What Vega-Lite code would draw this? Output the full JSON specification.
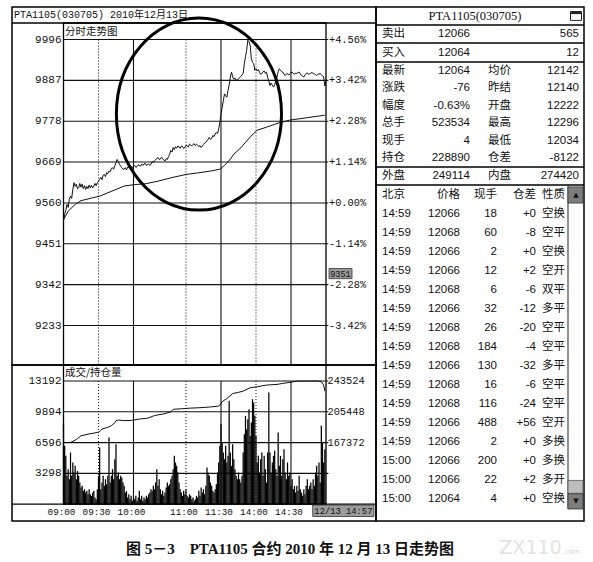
{
"$schema":"https://vega.github.io/schema/vega-lite/v6.json",
"width":593,"height":562,"padding":0,"autosize":{"type":"none"},"background":"white",
"data":{"values":[{}]},
"datasets":{
"pgrid":[{"p":9996,"l":"9996","r":"+4.56%"},{"p":9887,"l":"9887","r":"+3.42%"},{"p":9778,"l":"9778","r":"+2.28%"},{"p":9669,"l":"9669","r":"+1.14%"},{"p":9560,"l":"9560","r":"+0.00%"},{"p":9451,"l":"9451","r":"-1.14%"},{"p":9342,"l":"9342","r":"-2.28%"},{"p":9233,"l":"9233","r":"-3.42%"}],
"vsolid":[{"m":60},{"m":135},{"m":195}],
"vdot":[{"m":30},{"m":105},{"m":165}],
"vgrid":[{"v":13192,"l":"13192"},{"v":9894,"l":"9894"},{"v":6596,"l":"6596"},{"v":3298,"l":"3298"}],
"oigrid":[{"o":243524,"l":"243524"},{"o":205448,"l":"205448"},{"o":167372,"l":"167372"}],
"times":[{"m":0,"t":"09:00"},{"m":30,"t":"09:30"},{"m":60,"t":"10:00"},{"m":105,"t":"11:00"},{"m":135,"t":"11:30"},{"m":165,"t":"14:00"},{"m":195,"t":"14:30"}],
"price":[{"m":0,"p":9512},{"m":1,"p":9530},{"m":2,"p":9540},{"m":3,"p":9556},{"m":4,"p":9548},{"m":5,"p":9570},{"m":6,"p":9578},{"m":7,"p":9572},{"m":8,"p":9596},{"m":9,"p":9614},{"m":10,"p":9604},{"m":11,"p":9610},{"m":12,"p":9598},{"m":13,"p":9600},{"m":14,"p":9612},{"m":15,"p":9602},{"m":16,"p":9610},{"m":17,"p":9598},{"m":18,"p":9606},{"m":19,"p":9596},{"m":20,"p":9604},{"m":21,"p":9598},{"m":22,"p":9608},{"m":23,"p":9600},{"m":24,"p":9607},{"m":25,"p":9600},{"m":26,"p":9605},{"m":27,"p":9612},{"m":28,"p":9606},{"m":29,"p":9614},{"m":30,"p":9618},{"m":31,"p":9623},{"m":32,"p":9628},{"m":33,"p":9622},{"m":34,"p":9634},{"m":35,"p":9636},{"m":36,"p":9630},{"m":37,"p":9641},{"m":38,"p":9638},{"m":39,"p":9645},{"m":40,"p":9643},{"m":41,"p":9652},{"m":42,"p":9654},{"m":43,"p":9650},{"m":44,"p":9660},{"m":45,"p":9667},{"m":46,"p":9676},{"m":47,"p":9670},{"m":48,"p":9663},{"m":49,"p":9658},{"m":50,"p":9654},{"m":51,"p":9650},{"m":52,"p":9650},{"m":53,"p":9654},{"m":54,"p":9648},{"m":55,"p":9656},{"m":56,"p":9655},{"m":57,"p":9652},{"m":58,"p":9658},{"m":59,"p":9654},{"m":60,"p":9658},{"m":61,"p":9660},{"m":62,"p":9655},{"m":63,"p":9657},{"m":64,"p":9662},{"m":65,"p":9660},{"m":66,"p":9658},{"m":67,"p":9664},{"m":68,"p":9660},{"m":69,"p":9663},{"m":70,"p":9666},{"m":71,"p":9660},{"m":72,"p":9662},{"m":73,"p":9664},{"m":74,"p":9660},{"m":75,"p":9663},{"m":76,"p":9670},{"m":77,"p":9668},{"m":78,"p":9672},{"m":79,"p":9676},{"m":80,"p":9678},{"m":81,"p":9681},{"m":82,"p":9676},{"m":83,"p":9677},{"m":84,"p":9682},{"m":85,"p":9678},{"m":86,"p":9674},{"m":87,"p":9672},{"m":88,"p":9678},{"m":89,"p":9676},{"m":90,"p":9684},{"m":91,"p":9690},{"m":92,"p":9700},{"m":93,"p":9696},{"m":94,"p":9708},{"m":95,"p":9702},{"m":96,"p":9710},{"m":97,"p":9706},{"m":98,"p":9712},{"m":99,"p":9709},{"m":100,"p":9706},{"m":101,"p":9712},{"m":102,"p":9711},{"m":103,"p":9705},{"m":104,"p":9708},{"m":105,"p":9714},{"m":106,"p":9712},{"m":107,"p":9709},{"m":108,"p":9717},{"m":109,"p":9714},{"m":110,"p":9712},{"m":111,"p":9716},{"m":112,"p":9718},{"m":113,"p":9713},{"m":114,"p":9717},{"m":115,"p":9714},{"m":116,"p":9710},{"m":117,"p":9713},{"m":118,"p":9708},{"m":119,"p":9712},{"m":120,"p":9716},{"m":121,"p":9720},{"m":122,"p":9722},{"m":123,"p":9726},{"m":124,"p":9730},{"m":125,"p":9735},{"m":126,"p":9729},{"m":127,"p":9732},{"m":128,"p":9740},{"m":129,"p":9737},{"m":130,"p":9744},{"m":131,"p":9748},{"m":132,"p":9745},{"m":133,"p":9757},{"m":134,"p":9775},{"m":135,"p":9797},{"m":136,"p":9815},{"m":137,"p":9833},{"m":138,"p":9851},{"m":139,"p":9846},{"m":140,"p":9842},{"m":141,"p":9860},{"m":142,"p":9875},{"m":143,"p":9896},{"m":144,"p":9909},{"m":145,"p":9896},{"m":146,"p":9890},{"m":147,"p":9893},{"m":148,"p":9887},{"m":149,"p":9889},{"m":150,"p":9891},{"m":151,"p":9894},{"m":152,"p":9898},{"m":153,"p":9902},{"m":154,"p":9905},{"m":155,"p":9932},{"m":156,"p":9950},{"m":157,"p":9967},{"m":158,"p":9994},{"m":159,"p":9990},{"m":160,"p":9981},{"m":161,"p":9945},{"m":162,"p":9935},{"m":163,"p":9932},{"m":164,"p":9914},{"m":165,"p":9918},{"m":166,"p":9912},{"m":167,"p":9916},{"m":168,"p":9909},{"m":169,"p":9903},{"m":170,"p":9905},{"m":171,"p":9910},{"m":172,"p":9912},{"m":173,"p":9906},{"m":174,"p":9909},{"m":175,"p":9895},{"m":176,"p":9885},{"m":177,"p":9873},{"m":178,"p":9880},{"m":179,"p":9874},{"m":180,"p":9869},{"m":181,"p":9875},{"m":182,"p":9886},{"m":183,"p":9896},{"m":184,"p":9910},{"m":185,"p":9918},{"m":186,"p":9914},{"m":187,"p":9910},{"m":188,"p":9909},{"m":189,"p":9903},{"m":190,"p":9900},{"m":191,"p":9904},{"m":192,"p":9905},{"m":193,"p":9901},{"m":194,"p":9905},{"m":195,"p":9908},{"m":196,"p":9909},{"m":197,"p":9905},{"m":198,"p":9903},{"m":199,"p":9907},{"m":200,"p":9905},{"m":201,"p":9908},{"m":202,"p":9909},{"m":203,"p":9904},{"m":204,"p":9900},{"m":205,"p":9898},{"m":206,"p":9896},{"m":207,"p":9902},{"m":208,"p":9905},{"m":209,"p":9907},{"m":210,"p":9903},{"m":211,"p":9905},{"m":212,"p":9906},{"m":213,"p":9908},{"m":214,"p":9905},{"m":215,"p":9904},{"m":216,"p":9902},{"m":217,"p":9900},{"m":218,"p":9903},{"m":219,"p":9904},{"m":220,"p":9905},{"m":221,"p":9902},{"m":222,"p":9900},{"m":223,"p":9896},{"m":224,"p":9872},{"m":225,"p":9885}],
"avg":[{"m":0,"p":9515},{"m":4,"p":9538},{"m":10,"p":9556},{"m":15,"p":9566},{"m":24,"p":9573},{"m":31,"p":9578},{"m":38,"p":9587},{"m":45,"p":9596},{"m":52,"p":9605},{"m":61,"p":9609},{"m":70,"p":9611},{"m":81,"p":9618},{"m":92,"p":9627},{"m":105,"p":9636},{"m":115,"p":9640},{"m":126,"p":9645},{"m":134,"p":9650},{"m":138,"p":9660},{"m":143,"p":9677},{"m":146,"p":9690},{"m":152,"p":9707},{"m":160,"p":9736},{"m":166,"p":9754},{"m":174,"p":9762},{"m":183,"p":9772},{"m":194,"p":9781},{"m":208,"p":9787},{"m":224,"p":9794}],
"oi":[{"m":0,"o":167372},{"m":6,"o":167600},{"m":9,"o":169500},{"m":12,"o":172400},{"m":15,"o":175700},{"m":21,"o":177800},{"m":29,"o":179900},{"m":31,"o":181000},{"m":33,"o":184100},{"m":38,"o":186200},{"m":41,"o":188300},{"m":44,"o":192000},{"m":45,"o":194500},{"m":47,"o":195300},{"m":52,"o":194500},{"m":58,"o":194800},{"m":66,"o":196700},{"m":72,"o":197500},{"m":78,"o":200800},{"m":86,"o":202900},{"m":92,"o":205400},{"m":94,"o":208500},{"m":101,"o":209200},{"m":109,"o":210000},{"m":117,"o":210500},{"m":125,"o":211300},{"m":133,"o":212500},{"m":134,"o":214000},{"m":136,"o":218000},{"m":140,"o":221800},{"m":145,"o":228000},{"m":150,"o":229500},{"m":154,"o":231000},{"m":160,"o":235200},{"m":166,"o":236400},{"m":174,"o":238500},{"m":183,"o":239300},{"m":188,"o":240600},{"m":194,"o":241800},{"m":200,"o":243300},{"m":210,"o":243500},{"m":218,"o":243500},{"m":221,"o":242700},{"m":223,"o":238500},{"m":224,"o":231000}],
"vol":[{"m":0,"v":8566},{"m":1,"v":6246},{"m":2,"v":5175},{"m":3,"v":3034},{"m":4,"v":3747},{"m":5,"v":2677},{"m":6,"v":5532},{"m":7,"v":3034},{"m":8,"v":4461},{"m":9,"v":3391},{"m":10,"v":4104},{"m":11,"v":2677},{"m":12,"v":3569},{"m":13,"v":3034},{"m":14,"v":2320},{"m":15,"v":1785},{"m":16,"v":1963},{"m":17,"v":1428},{"m":18,"v":1606},{"m":19,"v":1249},{"m":20,"v":1428},{"m":21,"v":1071},{"m":22,"v":1606},{"m":23,"v":1071},{"m":24,"v":892},{"m":25,"v":1249},{"m":26,"v":1428},{"m":27,"v":714},{"m":28,"v":535},{"m":29,"v":1606},{"m":30,"v":3034},{"m":31,"v":6067},{"m":32,"v":1606},{"m":33,"v":2320},{"m":34,"v":3034},{"m":35,"v":1963},{"m":36,"v":2677},{"m":37,"v":2141},{"m":38,"v":3034},{"m":39,"v":7138},{"m":40,"v":2320},{"m":41,"v":3034},{"m":42,"v":3747},{"m":43,"v":2677},{"m":44,"v":4818},{"m":45,"v":6424},{"m":46,"v":3034},{"m":47,"v":3391},{"m":48,"v":2677},{"m":49,"v":3034},{"m":50,"v":2855},{"m":51,"v":2320},{"m":52,"v":1963},{"m":53,"v":1249},{"m":54,"v":1428},{"m":55,"v":714},{"m":56,"v":1071},{"m":57,"v":535},{"m":58,"v":892},{"m":59,"v":357},{"m":60,"v":714},{"m":61,"v":535},{"m":62,"v":892},{"m":63,"v":357},{"m":64,"v":714},{"m":65,"v":1428},{"m":66,"v":535},{"m":67,"v":892},{"m":68,"v":357},{"m":69,"v":714},{"m":70,"v":535},{"m":71,"v":892},{"m":72,"v":714},{"m":73,"v":1071},{"m":74,"v":1249},{"m":75,"v":1606},{"m":76,"v":1428},{"m":77,"v":1963},{"m":78,"v":1606},{"m":79,"v":2320},{"m":80,"v":3747},{"m":81,"v":1963},{"m":82,"v":2677},{"m":83,"v":1606},{"m":84,"v":1071},{"m":85,"v":1428},{"m":86,"v":892},{"m":87,"v":1249},{"m":88,"v":1785},{"m":89,"v":2320},{"m":90,"v":1963},{"m":91,"v":2141},{"m":92,"v":2677},{"m":93,"v":3034},{"m":94,"v":3747},{"m":95,"v":5175},{"m":96,"v":4461},{"m":97,"v":4104},{"m":98,"v":3391},{"m":99,"v":2320},{"m":100,"v":1606},{"m":101,"v":1249},{"m":102,"v":892},{"m":103,"v":1428},{"m":104,"v":1071},{"m":105,"v":1606},{"m":106,"v":892},{"m":107,"v":714},{"m":108,"v":1071},{"m":109,"v":892},{"m":110,"v":535},{"m":111,"v":714},{"m":112,"v":357},{"m":113,"v":535},{"m":114,"v":892},{"m":115,"v":714},{"m":116,"v":1428},{"m":117,"v":892},{"m":118,"v":1785},{"m":119,"v":1249},{"m":120,"v":1606},{"m":121,"v":1071},{"m":122,"v":1963},{"m":123,"v":3926},{"m":124,"v":3391},{"m":125,"v":3034},{"m":126,"v":2320},{"m":127,"v":1963},{"m":128,"v":1428},{"m":129,"v":1249},{"m":130,"v":1606},{"m":131,"v":2141},{"m":132,"v":3391},{"m":133,"v":4461},{"m":134,"v":6246},{"m":135,"v":8566},{"m":136,"v":6603},{"m":137,"v":5532},{"m":138,"v":4818},{"m":139,"v":6246},{"m":140,"v":4461},{"m":141,"v":5175},{"m":142,"v":11064},{"m":143,"v":5532},{"m":144,"v":4104},{"m":145,"v":6424},{"m":146,"v":4818},{"m":147,"v":3747},{"m":148,"v":3034},{"m":149,"v":2677},{"m":150,"v":3391},{"m":151,"v":2677},{"m":152,"v":2320},{"m":153,"v":3034},{"m":154,"v":5532},{"m":155,"v":7495},{"m":156,"v":9458},{"m":157,"v":8030},{"m":158,"v":9101},{"m":159,"v":10172},{"m":160,"v":7316},{"m":161,"v":8744},{"m":162,"v":11242},{"m":163,"v":10885},{"m":164,"v":9458},{"m":165,"v":7316},{"m":166,"v":4461},{"m":167,"v":5175},{"m":168,"v":3391},{"m":169,"v":4818},{"m":170,"v":5532},{"m":171,"v":3034},{"m":172,"v":5175},{"m":173,"v":3747},{"m":174,"v":2320},{"m":175,"v":5532},{"m":176,"v":11956},{"m":177,"v":5532},{"m":178,"v":3391},{"m":179,"v":4461},{"m":180,"v":5175},{"m":181,"v":5710},{"m":182,"v":3747},{"m":183,"v":3034},{"m":184,"v":7673},{"m":185,"v":4104},{"m":186,"v":5175},{"m":187,"v":3034},{"m":188,"v":4818},{"m":189,"v":5889},{"m":190,"v":3391},{"m":191,"v":2677},{"m":192,"v":4461},{"m":193,"v":3034},{"m":194,"v":3391},{"m":195,"v":1963},{"m":196,"v":2677},{"m":197,"v":1606},{"m":198,"v":1963},{"m":199,"v":1249},{"m":200,"v":1963},{"m":201,"v":1428},{"m":202,"v":3034},{"m":203,"v":1606},{"m":204,"v":1249},{"m":205,"v":892},{"m":206,"v":1606},{"m":207,"v":1071},{"m":208,"v":1963},{"m":209,"v":2677},{"m":210,"v":1606},{"m":211,"v":1963},{"m":212,"v":2320},{"m":213,"v":1606},{"m":214,"v":2677},{"m":215,"v":1963},{"m":216,"v":3391},{"m":217,"v":4104},{"m":218,"v":3034},{"m":219,"v":4461},{"m":220,"v":2320},{"m":221,"v":8387},{"m":222,"v":6603},{"m":223,"v":4461},{"m":224,"v":5889}],
"seps":[{"b":-0.5},{"b":0.5},{"b":1.5},{"b":7.5},{"b":8.5}],
"info":[{"r":0,"k1":"卖出","v1":"12066","k2":"","v2":"565"},{"r":1,"k1":"买入","v1":"12064","k2":"","v2":"12"},{"r":2,"k1":"最新","v1":"12064","k2":"均价","v2":"12142"},{"r":3,"k1":"涨跌","v1":"-76","k2":"昨结","v2":"12140"},{"r":4,"k1":"幅度","v1":"-0.63%","k2":"开盘","v2":"12222"},{"r":5,"k1":"总手","v1":"523534","k2":"最高","v2":"12296"},{"r":6,"k1":"现手","v1":"4","k2":"最低","v2":"12034"},{"r":7,"k1":"持仓","v1":"228890","k2":"仓差","v2":"-8122"},{"r":8,"k1":"外盘","v1":"249114","k2":"内盘","v2":"274420"}],
"trades":[{"r":9,"t":"北京","p":"价格","q":"现手","d":"仓差","k":"性质"},{"r":10,"t":"14:59","p":"12066","q":"18","d":"+0","k":"空换"},{"r":11,"t":"14:59","p":"12068","q":"60","d":"-8","k":"空平"},{"r":12,"t":"14:59","p":"12066","q":"2","d":"+0","k":"空换"},{"r":13,"t":"14:59","p":"12066","q":"12","d":"+2","k":"空开"},{"r":14,"t":"14:59","p":"12068","q":"6","d":"-6","k":"双平"},{"r":15,"t":"14:59","p":"12066","q":"32","d":"-12","k":"多平"},{"r":16,"t":"14:59","p":"12068","q":"26","d":"-20","k":"空平"},{"r":17,"t":"14:59","p":"12068","q":"184","d":"-4","k":"空平"},{"r":18,"t":"14:59","p":"12066","q":"130","d":"-32","k":"多平"},{"r":19,"t":"14:59","p":"12068","q":"16","d":"-6","k":"空平"},{"r":20,"t":"14:59","p":"12068","q":"116","d":"-24","k":"空平"},{"r":21,"t":"14:59","p":"12066","q":"488","d":"+56","k":"空开"},{"r":22,"t":"14:59","p":"12066","q":"2","d":"+0","k":"多换"},{"r":23,"t":"15:00","p":"12066","q":"200","d":"+0","k":"多换"},{"r":24,"t":"15:00","p":"12066","q":"22","d":"+2","k":"多开"},{"r":25,"t":"15:00","p":"12064","q":"4","d":"+0","k":"空换"}]
},
"resolve":{"scale":{"x":"independent","y":"independent"}},
"layer":[
{"mark":{"type":"rect","fillOpacity":0,"stroke":"#000","strokeWidth":1.5},"encoding":{"x":{"datum":-44.14,"type":"quantitative","scale":{"domain":[0,225],"range":[63.5,326],"nice":false,"zero":false},"axis":null},"x2":{"datum":267.86},"y":{"datum":10082.7,"type":"quantitative","scale":{"domain":[9233,9996],"range":[325.5,39.5],"nice":false,"zero":false},"axis":null},"y2":{"datum":9127.6}}},
{"mark":{"type":"rule","stroke":"#000","strokeWidth":1.3},"encoding":{"x":{"datum":-44.14,"type":"quantitative","scale":{"domain":[0,225],"range":[63.5,326],"nice":false,"zero":false},"axis":null},"x2":{"datum":267.86},"y":{"datum":10040,"type":"quantitative","scale":{"domain":[9233,9996],"range":[325.5,39.5],"nice":false,"zero":false},"axis":null}}},
{"mark":{"type":"rect","fillOpacity":0,"stroke":"#000","strokeWidth":1.3},"encoding":{"x":{"datum":0,"type":"quantitative","scale":{"domain":[0,225],"range":[63.5,326],"nice":false,"zero":false},"axis":null},"x2":{"datum":225},"y":{"datum":10040,"type":"quantitative","scale":{"domain":[9233,9996],"range":[325.5,39.5],"nice":false,"zero":false},"axis":null},"y2":{"datum":9127.6}}},
{"data":{"name":"pgrid"},"mark":{"type":"rule","stroke":"#111","strokeWidth":1.1},"encoding":{"x":{"datum":0,"type":"quantitative","scale":{"domain":[0,225],"range":[63.5,326],"nice":false,"zero":false},"axis":null},"x2":{"datum":227},"y":{"field":"p","type":"quantitative","scale":{"domain":[9233,9996],"range":[325.5,39.5],"nice":false,"zero":false},"axis":null}}},
{"data":{"name":"vsolid"},"mark":{"type":"rule","stroke":"#111","strokeWidth":1.1},"encoding":{"x":{"field":"m","type":"quantitative","scale":{"domain":[0,225],"range":[63.5,326],"nice":false,"zero":false},"axis":null},"y":{"datum":9996,"type":"quantitative","scale":{"domain":[9233,9996],"range":[325.5,39.5],"nice":false,"zero":false},"axis":null},"y2":{"datum":9127.6}}},
{"data":{"name":"vdot"},"mark":{"type":"rule","stroke":"#111","strokeWidth":1,"strokeDash":[1,2]},"encoding":{"x":{"field":"m","type":"quantitative","scale":{"domain":[0,225],"range":[63.5,326],"nice":false,"zero":false},"axis":null},"y":{"datum":9996,"type":"quantitative","scale":{"domain":[9233,9996],"range":[325.5,39.5],"nice":false,"zero":false},"axis":null},"y2":{"datum":9127.6}}},
{"data":{"name":"pgrid"},"mark":{"type":"text","align":"right","baseline":"middle","dx":-2,"font":"Liberation Mono","fontSize":11,"color":"#111"},"encoding":{"text":{"field":"l","type":"nominal"},"x":{"datum":0,"type":"quantitative","scale":{"domain":[0,225],"range":[63.5,326],"nice":false,"zero":false},"axis":null},"y":{"field":"p","type":"quantitative","scale":{"domain":[9233,9996],"range":[325.5,39.5],"nice":false,"zero":false},"axis":null}}},
{"data":{"name":"pgrid"},"mark":{"type":"text","align":"left","baseline":"middle","dx":3,"font":"Liberation Mono","fontSize":10.3,"color":"#111"},"encoding":{"text":{"field":"r","type":"nominal"},"x":{"datum":225,"type":"quantitative","scale":{"domain":[0,225],"range":[63.5,326],"nice":false,"zero":false},"axis":null},"y":{"field":"p","type":"quantitative","scale":{"domain":[9233,9996],"range":[325.5,39.5],"nice":false,"zero":false},"axis":null}}},
{"data":{"name":"avg"},"mark":{"type":"line","stroke":"#111","strokeWidth":1},"encoding":{"x":{"field":"m","type":"quantitative","scale":{"domain":[0,225],"range":[63.5,326],"nice":false,"zero":false},"axis":null},"y":{"field":"p","type":"quantitative","scale":{"domain":[9233,9996],"range":[325.5,39.5],"nice":false,"zero":false},"axis":null}}},
{"data":{"name":"price"},"mark":{"type":"line","stroke":"#111","strokeWidth":1},"encoding":{"x":{"field":"m","type":"quantitative","scale":{"domain":[0,225],"range":[63.5,326],"nice":false,"zero":false},"axis":null},"y":{"field":"p","type":"quantitative","scale":{"domain":[9233,9996],"range":[325.5,39.5],"nice":false,"zero":false},"axis":null}}},
{"mark":{"type":"rect","fill":"#9a9a9a","stroke":"#333","strokeWidth":0.8},"encoding":{"x":{"datum":227.6,"type":"quantitative","scale":{"domain":[0,225],"range":[63.5,326],"nice":false,"zero":false},"axis":null},"x2":{"datum":247.3},"y":{"datum":9385,"type":"quantitative","scale":{"domain":[9233,9996],"range":[325.5,39.5],"nice":false,"zero":false},"axis":null},"y2":{"datum":9358}}},
{"data":{"values":[{"t":"9351"}]},"mark":{"type":"text","align":"center","baseline":"middle","font":"Liberation Mono","fontSize":8.5,"color":"#111"},"encoding":{"text":{"field":"t","type":"nominal"},"x":{"datum":237.4,"type":"quantitative","scale":{"domain":[0,225],"range":[63.5,326],"nice":false,"zero":false},"axis":null},"y":{"datum":9371.5,"type":"quantitative","scale":{"domain":[9233,9996],"range":[325.5,39.5],"nice":false,"zero":false},"axis":null}}},
{"data":{"values":[{"t":"PTA1105(030705) 2010年12月13日"}]},"mark":{"type":"text","align":"left","baseline":"middle","font":"Liberation Mono, Noto Sans CJK SC","fontSize":10,"color":"#111"},"encoding":{"text":{"field":"t","type":"nominal"},"x":{"datum":-42.4,"type":"quantitative","scale":{"domain":[0,225],"range":[63.5,326],"nice":false,"zero":false},"axis":null},"y":{"datum":10061.4,"type":"quantitative","scale":{"domain":[9233,9996],"range":[325.5,39.5],"nice":false,"zero":false},"axis":null}}},
{"data":{"values":[{"t":"分时走势图"}]},"mark":{"type":"text","align":"left","baseline":"middle","dx":1.5,"font":"Noto Sans CJK SC","fontSize":10.5,"color":"#111"},"encoding":{"text":{"field":"t","type":"nominal"},"x":{"datum":0,"type":"quantitative","scale":{"domain":[0,225],"range":[63.5,326],"nice":false,"zero":false},"axis":null},"y":{"datum":10017,"type":"quantitative","scale":{"domain":[9233,9996],"range":[325.5,39.5],"nice":false,"zero":false},"axis":null}}},
{"mark":{"type":"rect","fillOpacity":0,"stroke":"#000","strokeWidth":1.5},"encoding":{"x":{"datum":-44.14,"type":"quantitative","scale":{"domain":[0,225],"range":[63.5,326],"nice":false,"zero":false},"axis":null},"x2":{"datum":267.86},"y":{"datum":14905,"type":"quantitative","scale":{"domain":[0,13192],"range":[504.2,381],"nice":false,"zero":false},"axis":null},"y2":{"datum":-1790}}},
{"mark":{"type":"rect","fillOpacity":0,"stroke":"#000","strokeWidth":1.3},"encoding":{"x":{"datum":0,"type":"quantitative","scale":{"domain":[0,225],"range":[63.5,326],"nice":false,"zero":false},"axis":null},"x2":{"datum":225},"y":{"datum":14905,"type":"quantitative","scale":{"domain":[0,13192],"range":[504.2,381],"nice":false,"zero":false},"axis":null},"y2":{"datum":0}}},
{"mark":{"type":"rule","stroke":"#000","strokeWidth":1.3},"encoding":{"x":{"datum":-44.14,"type":"quantitative","scale":{"domain":[0,225],"range":[63.5,326],"nice":false,"zero":false},"axis":null},"x2":{"datum":267.86},"y":{"datum":0,"type":"quantitative","scale":{"domain":[0,13192],"range":[504.2,381],"nice":false,"zero":false},"axis":null}}},
{"data":{"name":"vgrid"},"mark":{"type":"rule","stroke":"#111","strokeWidth":1.1},"encoding":{"x":{"datum":0,"type":"quantitative","scale":{"domain":[0,225],"range":[63.5,326],"nice":false,"zero":false},"axis":null},"x2":{"datum":227},"y":{"field":"v","type":"quantitative","scale":{"domain":[0,13192],"range":[504.2,381],"nice":false,"zero":false},"axis":null}}},
{"data":{"name":"vsolid"},"mark":{"type":"rule","stroke":"#111","strokeWidth":1.1},"encoding":{"x":{"field":"m","type":"quantitative","scale":{"domain":[0,225],"range":[63.5,326],"nice":false,"zero":false},"axis":null},"y":{"datum":13192,"type":"quantitative","scale":{"domain":[0,13192],"range":[504.2,381],"nice":false,"zero":false},"axis":null},"y2":{"datum":0}}},
{"data":{"name":"vdot"},"mark":{"type":"rule","stroke":"#111","strokeWidth":1,"strokeDash":[1,2]},"encoding":{"x":{"field":"m","type":"quantitative","scale":{"domain":[0,225],"range":[63.5,326],"nice":false,"zero":false},"axis":null},"y":{"datum":13192,"type":"quantitative","scale":{"domain":[0,13192],"range":[504.2,381],"nice":false,"zero":false},"axis":null},"y2":{"datum":0}}},
{"data":{"name":"vol"},"mark":{"type":"rule","stroke":"#000","strokeWidth":1.25},"encoding":{"x":{"field":"m","type":"quantitative","scale":{"domain":[0,225],"range":[63.5,326],"nice":false,"zero":false},"axis":null},"y":{"field":"v","type":"quantitative","scale":{"domain":[0,13192],"range":[504.2,381],"nice":false,"zero":false},"axis":null},"y2":{"datum":0}}},
{"data":{"name":"oi"},"mark":{"type":"line","stroke":"#111","strokeWidth":1},"encoding":{"x":{"field":"m","type":"quantitative","scale":{"domain":[0,225],"range":[63.5,326],"nice":false,"zero":false},"axis":null},"y":{"field":"o","type":"quantitative","scale":{"domain":[91220,243524],"range":[504.2,381],"nice":false,"zero":false},"axis":null}}},
{"data":{"name":"vgrid"},"mark":{"type":"text","align":"right","baseline":"middle","dx":-2,"font":"Liberation Mono","fontSize":11,"color":"#111"},"encoding":{"text":{"field":"l","type":"nominal"},"x":{"datum":0,"type":"quantitative","scale":{"domain":[0,225],"range":[63.5,326],"nice":false,"zero":false},"axis":null},"y":{"field":"v","type":"quantitative","scale":{"domain":[0,13192],"range":[504.2,381],"nice":false,"zero":false},"axis":null}}},
{"data":{"name":"oigrid"},"mark":{"type":"text","align":"left","baseline":"middle","dx":1.5,"font":"Liberation Mono","fontSize":10.3,"color":"#111"},"encoding":{"text":{"field":"l","type":"nominal"},"x":{"datum":225,"type":"quantitative","scale":{"domain":[0,225],"range":[63.5,326],"nice":false,"zero":false},"axis":null},"y":{"field":"o","type":"quantitative","scale":{"domain":[91220,243524],"range":[504.2,381],"nice":false,"zero":false},"axis":null}}},
{"data":{"values":[{"t":"成交/持仓量"}]},"mark":{"type":"text","align":"left","baseline":"middle","dx":1.5,"font":"Noto Sans CJK SC","fontSize":10.5,"color":"#111"},"encoding":{"text":{"field":"t","type":"nominal"},"x":{"datum":0,"type":"quantitative","scale":{"domain":[0,225],"range":[63.5,326],"nice":false,"zero":false},"axis":null},"y":{"datum":14049,"type":"quantitative","scale":{"domain":[0,13192],"range":[504.2,381],"nice":false,"zero":false},"axis":null}}},
{"data":{"name":"times"},"mark":{"type":"text","align":"center","baseline":"middle","dx":-2,"font":"Liberation Mono","fontSize":9.3,"color":"#111"},"encoding":{"text":{"field":"t","type":"nominal"},"x":{"field":"m","type":"quantitative","scale":{"domain":[0,225],"range":[63.5,326],"nice":false,"zero":false},"axis":null},"y":{"datum":-835,"type":"quantitative","scale":{"domain":[0,13192],"range":[504.2,381],"nice":false,"zero":false},"axis":null}}},
{"mark":{"type":"rect","fill":"#9c9c9c","stroke":"#333","strokeWidth":0.8},"encoding":{"x":{"datum":213.6,"type":"quantitative","scale":{"domain":[0,225],"range":[63.5,326],"nice":false,"zero":false},"axis":null},"x2":{"datum":266.1},"y":{"datum":-86,"type":"quantitative","scale":{"domain":[0,13192],"range":[504.2,381],"nice":false,"zero":false},"axis":null},"y2":{"datum":-1317}}},
{"data":{"values":[{"t":"12/13 14:57"}]},"mark":{"type":"text","align":"center","baseline":"middle","font":"Liberation Mono","fontSize":8.8,"color":"#111"},"encoding":{"text":{"field":"t","type":"nominal"},"x":{"datum":239.9,"type":"quantitative","scale":{"domain":[0,225],"range":[63.5,326],"nice":false,"zero":false},"axis":null},"y":{"datum":-760,"type":"quantitative","scale":{"domain":[0,13192],"range":[504.2,381],"nice":false,"zero":false},"axis":null}}},
{"mark":{"type":"rect","fillOpacity":0,"stroke":"#000","strokeWidth":1.5},"encoding":{"x":{"datum":0,"type":"quantitative","scale":{"domain":[0,1,2,3,4,5,6,7,8,9,10,11,12],"range":[376,382,460,470,475,488,497,536,542,568,576,579,584],"nice":false,"zero":false},"axis":null},"x2":{"datum":12},"y":{"datum":-1.5,"type":"quantitative","scale":{"domain":[-1.5,-0.5,0.5,1.5,7.5,8.5,9.5,25.5,26.5],"range":[7,25,43,62,167,185,204,509,521],"nice":false,"zero":false},"axis":null},"y2":{"datum":26.5}}},
{"data":{"name":"seps"},"mark":{"type":"rule","stroke":"#000","strokeWidth":1.3},"encoding":{"x":{"datum":0,"type":"quantitative","scale":{"domain":[0,1,2,3,4,5,6,7,8,9,10,11,12],"range":[376,382,460,470,475,488,497,536,542,568,576,579,584],"nice":false,"zero":false},"axis":null},"x2":{"datum":12},"y":{"field":"b","type":"quantitative","scale":{"domain":[-1.5,-0.5,0.5,1.5,7.5,8.5,9.5,25.5,26.5],"range":[7,25,43,62,167,185,204,509,521],"nice":false,"zero":false},"axis":null}}},
{"mark":{"type":"rule","stroke":"#222","strokeWidth":1},"encoding":{"x":{"datum":9,"type":"quantitative","scale":{"domain":[0,1,2,3,4,5,6,7,8,9,10,11,12],"range":[376,382,460,470,475,488,497,536,542,568,576,579,584],"nice":false,"zero":false},"axis":null},"y":{"datum":8.5,"type":"quantitative","scale":{"domain":[-1.5,-0.5,0.5,1.5,7.5,8.5,9.5,25.5,26.5],"range":[7,25,43,62,167,185,204,509,521],"nice":false,"zero":false},"axis":null},"y2":{"datum":25.5}}},
{"mark":{"type":"rect","fill":"#7d7d7d","stroke":"#333","strokeWidth":0.8},"encoding":{"x":{"datum":9,"type":"quantitative","scale":{"domain":[0,1,2,3,4,5,6,7,8,9,10,11,12],"range":[376,382,460,470,475,488,497,536,542,568,576,579,584],"nice":false,"zero":false},"axis":null},"x2":{"datum":11.8},"y":{"datum":8.6,"type":"quantitative","scale":{"domain":[-1.5,-0.5,0.5,1.5,7.5,8.5,9.5,25.5,26.5],"range":[7,25,43,62,167,185,204,509,521],"nice":false,"zero":false},"axis":null},"y2":{"datum":9.45}}},
{"mark":{"type":"rect","fill":"#bdbdbd","stroke":"#555","strokeWidth":0.8},"encoding":{"x":{"datum":9,"type":"quantitative","scale":{"domain":[0,1,2,3,4,5,6,7,8,9,10,11,12],"range":[376,382,460,470,475,488,497,536,542,568,576,579,584],"nice":false,"zero":false},"axis":null},"x2":{"datum":11.8},"y":{"datum":24.0,"type":"quantitative","scale":{"domain":[-1.5,-0.5,0.5,1.5,7.5,8.5,9.5,25.5,26.5],"range":[7,25,43,62,167,185,204,509,521],"nice":false,"zero":false},"axis":null},"y2":{"datum":24.68}}},
{"mark":{"type":"rect","fill":"#7d7d7d","stroke":"#333","strokeWidth":0.8},"encoding":{"x":{"datum":9,"type":"quantitative","scale":{"domain":[0,1,2,3,4,5,6,7,8,9,10,11,12],"range":[376,382,460,470,475,488,497,536,542,568,576,579,584],"nice":false,"zero":false},"axis":null},"x2":{"datum":11.8},"y":{"datum":24.7,"type":"quantitative","scale":{"domain":[-1.5,-0.5,0.5,1.5,7.5,8.5,9.5,25.5,26.5],"range":[7,25,43,62,167,185,204,509,521],"nice":false,"zero":false},"axis":null},"y2":{"datum":25.5}}},
{"data":{"values":[{"t":"▲","r":9.02},{"t":"▼","r":25.1}]},"mark":{"type":"text","align":"center","baseline":"middle","font":"DejaVu Sans","fontSize":7,"color":"#111"},"encoding":{"text":{"field":"t","type":"nominal"},"x":{"datum":10,"type":"quantitative","scale":{"domain":[0,1,2,3,4,5,6,7,8,9,10,11,12],"range":[376,382,460,470,475,488,497,536,542,568,576,579,584],"nice":false,"zero":false},"axis":null},"y":{"field":"r","type":"quantitative","scale":{"domain":[-1.5,-0.5,0.5,1.5,7.5,8.5,9.5,25.5,26.5],"range":[7,25,43,62,167,185,204,509,521],"nice":false,"zero":false},"axis":null}}},
{"mark":{"type":"point","shape":"M-1,-0.8H1V0.8H-1Z","size":121,"filled":false,"stroke":"#222","strokeWidth":1,"opacity":1},"encoding":{"x":{"datum":10,"type":"quantitative","scale":{"domain":[0,1,2,3,4,5,6,7,8,9,10,11,12],"range":[376,382,460,470,475,488,497,536,542,568,576,579,584],"nice":false,"zero":false},"axis":null},"y":{"datum":-1,"type":"quantitative","scale":{"domain":[-1.5,-0.5,0.5,1.5,7.5,8.5,9.5,25.5,26.5],"range":[7,25,43,62,167,185,204,509,521],"nice":false,"zero":false},"axis":null}}},
{"mark":{"type":"point","shape":"M-1,-0.8H1V-0.35H-1Z","size":121,"filled":true,"fill":"#222","opacity":1},"encoding":{"x":{"datum":10,"type":"quantitative","scale":{"domain":[0,1,2,3,4,5,6,7,8,9,10,11,12],"range":[376,382,460,470,475,488,497,536,542,568,576,579,584],"nice":false,"zero":false},"axis":null},"y":{"datum":-1,"type":"quantitative","scale":{"domain":[-1.5,-0.5,0.5,1.5,7.5,8.5,9.5,25.5,26.5],"range":[7,25,43,62,167,185,204,509,521],"nice":false,"zero":false},"axis":null}}},
{"data":{"values":[{"t":"PTA1105(030705)"}]},"mark":{"type":"text","align":"center","baseline":"middle","font":"Liberation Serif","fontSize":12.5,"color":"#111"},"encoding":{"text":{"field":"t","type":"nominal"},"x":{"datum":4,"type":"quantitative","scale":{"domain":[0,1,2,3,4,5,6,7,8,9,10,11,12],"range":[376,382,460,470,475,488,497,536,542,568,576,579,584],"nice":false,"zero":false},"axis":null},"y":{"datum":-1,"type":"quantitative","scale":{"domain":[-1.5,-0.5,0.5,1.5,7.5,8.5,9.5,25.5,26.5],"range":[7,25,43,62,167,185,204,509,521],"nice":false,"zero":false},"axis":null}}},
{"data":{"name":"info"},"mark":{"type":"text","align":"left","baseline":"middle","font":"Liberation Sans, Noto Sans CJK SC","fontSize":11.5,"color":"#111"},"encoding":{"text":{"field":"k1","type":"nominal"},"x":{"datum":1,"type":"quantitative","scale":{"domain":[0,1,2,3,4,5,6,7,8,9,10,11,12],"range":[376,382,460,470,475,488,497,536,542,568,576,579,584],"nice":false,"zero":false},"axis":null},"y":{"field":"r","type":"quantitative","scale":{"domain":[-1.5,-0.5,0.5,1.5,7.5,8.5,9.5,25.5,26.5],"range":[7,25,43,62,167,185,204,509,521],"nice":false,"zero":false},"axis":null}}},
{"data":{"name":"info"},"mark":{"type":"text","align":"right","baseline":"middle","font":"Liberation Sans, Noto Sans CJK SC","fontSize":11.5,"color":"#111"},"encoding":{"text":{"field":"v1","type":"nominal"},"x":{"datum":3,"type":"quantitative","scale":{"domain":[0,1,2,3,4,5,6,7,8,9,10,11,12],"range":[376,382,460,470,475,488,497,536,542,568,576,579,584],"nice":false,"zero":false},"axis":null},"y":{"field":"r","type":"quantitative","scale":{"domain":[-1.5,-0.5,0.5,1.5,7.5,8.5,9.5,25.5,26.5],"range":[7,25,43,62,167,185,204,509,521],"nice":false,"zero":false},"axis":null}}},
{"data":{"name":"info"},"mark":{"type":"text","align":"left","baseline":"middle","font":"Liberation Sans, Noto Sans CJK SC","fontSize":11.5,"color":"#111"},"encoding":{"text":{"field":"k2","type":"nominal"},"x":{"datum":5,"type":"quantitative","scale":{"domain":[0,1,2,3,4,5,6,7,8,9,10,11,12],"range":[376,382,460,470,475,488,497,536,542,568,576,579,584],"nice":false,"zero":false},"axis":null},"y":{"field":"r","type":"quantitative","scale":{"domain":[-1.5,-0.5,0.5,1.5,7.5,8.5,9.5,25.5,26.5],"range":[7,25,43,62,167,185,204,509,521],"nice":false,"zero":false},"axis":null}}},
{"data":{"name":"info"},"mark":{"type":"text","align":"right","baseline":"middle","font":"Liberation Sans, Noto Sans CJK SC","fontSize":11.5,"color":"#111"},"encoding":{"text":{"field":"v2","type":"nominal"},"x":{"datum":11,"type":"quantitative","scale":{"domain":[0,1,2,3,4,5,6,7,8,9,10,11,12],"range":[376,382,460,470,475,488,497,536,542,568,576,579,584],"nice":false,"zero":false},"axis":null},"y":{"field":"r","type":"quantitative","scale":{"domain":[-1.5,-0.5,0.5,1.5,7.5,8.5,9.5,25.5,26.5],"range":[7,25,43,62,167,185,204,509,521],"nice":false,"zero":false},"axis":null}}},
{"data":{"name":"trades"},"mark":{"type":"text","align":"left","baseline":"middle","font":"Liberation Sans, Noto Sans CJK SC","fontSize":11.5,"color":"#111"},"encoding":{"text":{"field":"t","type":"nominal"},"x":{"datum":1,"type":"quantitative","scale":{"domain":[0,1,2,3,4,5,6,7,8,9,10,11,12],"range":[376,382,460,470,475,488,497,536,542,568,576,579,584],"nice":false,"zero":false},"axis":null},"y":{"field":"r","type":"quantitative","scale":{"domain":[-1.5,-0.5,0.5,1.5,7.5,8.5,9.5,25.5,26.5],"range":[7,25,43,62,167,185,204,509,521],"nice":false,"zero":false},"axis":null}}},
{"data":{"name":"trades"},"mark":{"type":"text","align":"right","baseline":"middle","font":"Liberation Sans, Noto Sans CJK SC","fontSize":11.5,"color":"#111"},"encoding":{"text":{"field":"p","type":"nominal"},"x":{"datum":2,"type":"quantitative","scale":{"domain":[0,1,2,3,4,5,6,7,8,9,10,11,12],"range":[376,382,460,470,475,488,497,536,542,568,576,579,584],"nice":false,"zero":false},"axis":null},"y":{"field":"r","type":"quantitative","scale":{"domain":[-1.5,-0.5,0.5,1.5,7.5,8.5,9.5,25.5,26.5],"range":[7,25,43,62,167,185,204,509,521],"nice":false,"zero":false},"axis":null}}},
{"data":{"name":"trades"},"mark":{"type":"text","align":"right","baseline":"middle","font":"Liberation Sans, Noto Sans CJK SC","fontSize":11.5,"color":"#111"},"encoding":{"text":{"field":"q","type":"nominal"},"x":{"datum":6,"type":"quantitative","scale":{"domain":[0,1,2,3,4,5,6,7,8,9,10,11,12],"range":[376,382,460,470,475,488,497,536,542,568,576,579,584],"nice":false,"zero":false},"axis":null},"y":{"field":"r","type":"quantitative","scale":{"domain":[-1.5,-0.5,0.5,1.5,7.5,8.5,9.5,25.5,26.5],"range":[7,25,43,62,167,185,204,509,521],"nice":false,"zero":false},"axis":null}}},
{"data":{"name":"trades"},"mark":{"type":"text","align":"right","baseline":"middle","font":"Liberation Sans, Noto Sans CJK SC","fontSize":11.5,"color":"#111"},"encoding":{"text":{"field":"d","type":"nominal"},"x":{"datum":7,"type":"quantitative","scale":{"domain":[0,1,2,3,4,5,6,7,8,9,10,11,12],"range":[376,382,460,470,475,488,497,536,542,568,576,579,584],"nice":false,"zero":false},"axis":null},"y":{"field":"r","type":"quantitative","scale":{"domain":[-1.5,-0.5,0.5,1.5,7.5,8.5,9.5,25.5,26.5],"range":[7,25,43,62,167,185,204,509,521],"nice":false,"zero":false},"axis":null}}},
{"data":{"name":"trades"},"mark":{"type":"text","align":"left","baseline":"middle","font":"Liberation Sans, Noto Sans CJK SC","fontSize":11.5,"color":"#111"},"encoding":{"text":{"field":"k","type":"nominal"},"x":{"datum":8,"type":"quantitative","scale":{"domain":[0,1,2,3,4,5,6,7,8,9,10,11,12],"range":[376,382,460,470,475,488,497,536,542,568,576,579,584],"nice":false,"zero":false},"axis":null},"y":{"field":"r","type":"quantitative","scale":{"domain":[-1.5,-0.5,0.5,1.5,7.5,8.5,9.5,25.5,26.5],"range":[7,25,43,62,167,185,204,509,521],"nice":false,"zero":false},"axis":null}}},
{"data":{"values":[{"m":116.1,"p":9797}]},"mark":{"type":"point","shape":"M0.86,0C0.86,0.5523 0.475,1 0,1C-0.475,1 -0.86,0.5523 -0.86,0C-0.86,-0.5523 -0.475,-1 0,-1C0.475,-1 0.86,-0.5523 0.86,0Z","size":36864,"filled":false,"stroke":"#000","strokeWidth":3,"opacity":1},"encoding":{"x":{"field":"m","type":"quantitative","scale":{"domain":[0,225],"range":[63.5,326],"nice":false,"zero":false},"axis":null},"y":{"field":"p","type":"quantitative","scale":{"domain":[9233,9996],"range":[325.5,39.5],"nice":false,"zero":false},"axis":null}}},
{"data":{"values":[{"t":"图 5－3　PTA1105 合约 2010 年 12 月 13 日走势图"}]},"mark":{"type":"text","align":"center","baseline":"middle","font":"Liberation Serif, Noto Sans CJK SC","fontSize":15,"fontWeight":"bold","color":"#111"},"encoding":{"text":{"field":"t","type":"nominal"},"x":{"datum":194.1,"type":"quantitative","scale":{"domain":[0,225],"range":[63.5,326],"nice":false,"zero":false},"axis":null},"y":{"datum":-4797,"type":"quantitative","scale":{"domain":[0,13192],"range":[504.2,381],"nice":false,"zero":false},"axis":null}}},
{"data":{"values":[{"t":"ZX110"}]},"mark":{"type":"text","align":"right","baseline":"middle","font":"DejaVu Sans","fontSize":19,"color":"#e3e3e3"},"encoding":{"text":{"field":"t","type":"nominal"},"x":{"datum":427,"type":"quantitative","scale":{"domain":[0,225],"range":[63.5,326],"nice":false,"zero":false},"axis":null},"y":{"datum":-4690,"type":"quantitative","scale":{"domain":[0,13192],"range":[504.2,381],"nice":false,"zero":false},"axis":null}}},
{"data":{"values":[{"t":".com"}]},"mark":{"type":"text","align":"left","baseline":"middle","dx":1,"font":"DejaVu Sans","fontSize":7,"color":"#d4d4d4"},"encoding":{"text":{"field":"t","type":"nominal"},"x":{"datum":427,"type":"quantitative","scale":{"domain":[0,225],"range":[63.5,326],"nice":false,"zero":false},"axis":null},"y":{"datum":-5160,"type":"quantitative","scale":{"domain":[0,13192],"range":[504.2,381],"nice":false,"zero":false},"axis":null}}}
],
"config":{"view":{"stroke":null}}
}
